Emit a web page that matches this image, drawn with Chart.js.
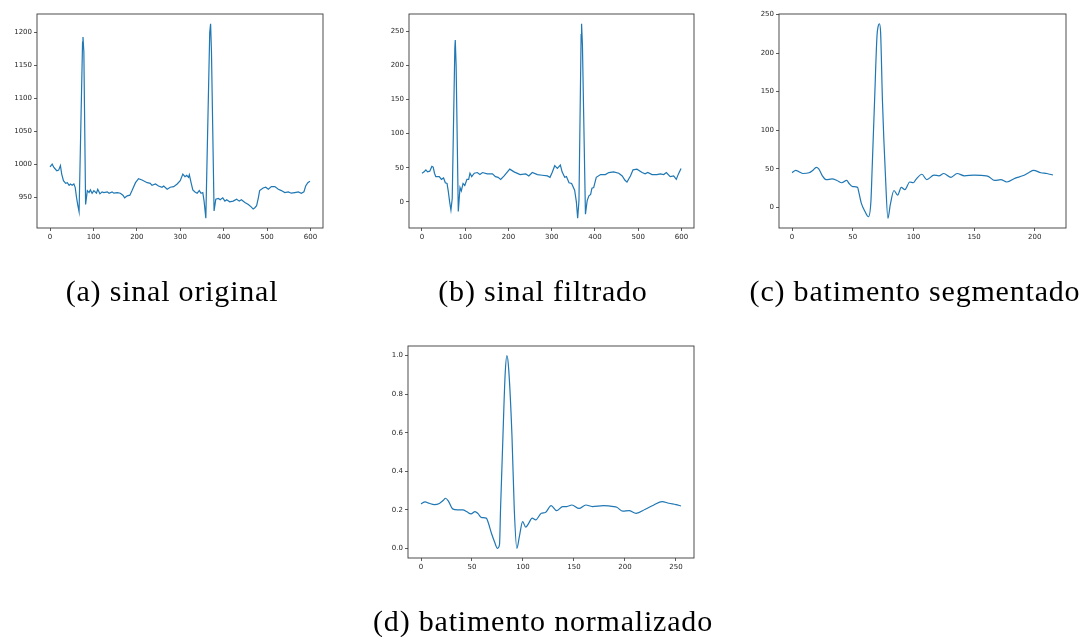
<!DOCTYPE html>
<html>
<head>
<meta charset="utf-8">
<script src="https://cdn.jsdelivr.net/npm/chart.js@4.4.1/dist/chart.umd.min.js"></script>
<style>
  html, body { margin: 0; padding: 0; background: #fff; overflow: hidden; }
  body { width: 1083px; height: 637px; position: relative; }
  .panel { position: absolute; }
  #captions { position: absolute; left: 0; top: 0; pointer-events: none; }
</style>
</head>
<body>
<canvas class="panel" id="chart-a"></canvas>
<canvas class="panel" id="chart-b"></canvas>
<canvas class="panel" id="chart-c"></canvas>
<canvas class="panel" id="chart-d"></canvas>
<canvas id="captions" width="1083" height="637"></canvas>
<script>
// (a) sinal original
const xA = [0, 5, 9, 13, 16, 20, 24, 27, 31, 36, 40, 44, 47, 51, 55, 58, 61, 64, 67, 75, 76, 78, 82,
  86, 90, 93, 97, 101, 107, 110, 115, 120, 124, 132, 136, 143, 147, 155, 162, 168, 172, 178, 184,
  189, 197, 204, 212, 224, 231, 235, 243, 250, 258, 262, 270, 277, 285, 293, 300, 306, 311, 315,
  319, 321, 325, 329, 334, 339, 344, 348, 352, 355, 359, 368, 370, 372, 378, 382, 388, 392, 398, 403,
  407, 414, 422, 430, 436, 441, 449, 457, 464, 468, 472, 476, 480, 483, 491, 497, 503, 510, 518,
  526, 533, 541, 549, 556, 564, 572, 579, 585, 589, 594, 599];
const yA = [996, 1000, 995, 992, 990, 991, 998, 985, 975, 971, 972, 968, 970, 968, 970, 965, 950, 938, 928, 1185, 1193, 1170, 939,
  960, 957, 961, 956, 960, 956, 962, 955, 958, 957, 958, 956, 958, 956, 957, 956, 953, 949, 952, 953,
  960, 972, 978, 976, 972, 971, 968, 970, 967, 965, 967, 962, 965, 966, 970, 975, 985, 981, 983,
  980, 984, 972, 961, 958, 956, 960, 956, 957, 944, 918, 1200, 1213, 1170, 929, 947, 948, 946, 949, 944,
  946, 943, 944, 947, 944, 946, 942, 939, 935, 932, 934, 937, 949, 960, 964, 965, 962, 966, 966,
  962, 960, 957, 958, 956, 957, 958, 956, 958, 967, 972, 974];
const xTicksA = [0, 100, 200, 300, 400, 500, 600];
const yTicksA = [950, 1000, 1050, 1100, 1150, 1200];

// (b) sinal filtrado
const xB = [0, 5, 9, 13, 18, 23, 26, 29, 32, 40, 45, 50, 54, 58, 61, 64, 67, 70, 76, 77, 79, 84,
  88, 91, 95, 99, 104, 108, 111, 115, 121, 128, 134, 140, 151, 163, 170, 176, 182, 190, 203, 213,
  227, 240, 247, 255, 267, 278, 290, 296, 301, 307, 313, 320, 324, 330, 334, 340, 346, 353, 357,
  360, 363, 368, 369, 371, 378, 382, 386, 390, 393, 397, 403, 413, 424, 432, 443, 455, 463, 469, 474,
  482, 488, 497, 509, 516, 522, 532, 543, 551, 559, 565, 574, 582, 588, 593, 599];
const yB = [42, 44, 47, 44, 45, 52, 51, 42, 37, 37, 33, 35, 28, 27, 15, 0, -12, 5, 225, 237, 200, -14,
  21, 16, 27, 24, 33, 33, 42, 37, 42, 43, 40, 43, 41, 41, 37, 36, 33, 38, 48, 44,
  40, 41, 38, 43, 40, 39, 38, 36, 43, 53, 49, 54, 44, 36, 37, 28, 27, 17, 0,
  -24, 2, 245, 261, 230, -18, 2, 9, 11, 20, 21, 36, 40, 40, 43, 44, 42, 38, 32, 29,
  38, 47, 48, 43, 41, 43, 40, 40, 41, 40, 43, 37, 38, 33, 41, 49];
const xTicksB = [0, 100, 200, 300, 400, 500, 600];
const yTicksB = [0, 50, 100, 150, 200, 250];

// (c) batimento segmentado
const xC = [0, 3, 6, 9, 14, 17, 20, 22, 25, 28, 33, 37, 41, 45, 47, 50, 54, 55, 57, 60, 63, 65,
  66, 68, 70, 71, 72, 73, 74.5, 77, 79, 81, 84, 87, 90, 93, 97, 100, 102, 107, 111, 117, 121,
  125, 131, 136, 142, 150, 160, 162, 167, 172, 177, 184, 190, 195, 199, 205, 210, 215];
const yC = [45, 48, 46, 44, 45, 48, 52, 50, 41, 36, 37, 35, 32, 35, 31, 27, 26, 20, 6, -5, -12, 8,
  50, 138, 222, 235, 238, 226, 138, 40, -14, 4, 22, 16, 26, 23, 33, 32, 36, 43, 36, 42, 41,
  44, 39, 44, 41, 42, 41, 40, 35, 36, 33, 38, 41, 45, 48, 45, 44, 42];
const xTicksC = [0, 50, 100, 150, 200];
const yTicksC = [0, 50, 100, 150, 200, 250];

// (d) batimento normalizado
const xD = [0, 4, 8, 13, 18, 22, 24, 27, 31, 36, 41, 45, 49, 53, 56, 59, 64, 66, 69, 72, 75, 77,
  78, 80.4, 82.5, 84.3, 86, 89.2, 91.5, 94, 96.5, 99.7, 102.7, 105.3, 109, 112.5, 118, 122,
  127.6, 133, 139, 143, 148, 155, 161.7, 168, 179, 189, 192, 198, 204, 211, 220, 228, 236.5,
  243, 250, 255];
const yD = [0.231, 0.241, 0.234, 0.227, 0.233, 0.25, 0.26, 0.244, 0.205, 0.2, 0.2, 0.19, 0.179, 0.191, 0.18, 0.161, 0.157, 0.133, 0.08, 0.036, 0.0, 0.02,
  0.2, 0.587, 0.9, 1.0, 0.93, 0.587, 0.2, 0.0, 0.062, 0.139, 0.11, 0.127, 0.157, 0.148, 0.182, 0.186,
  0.222, 0.196, 0.217, 0.217, 0.225, 0.207, 0.225, 0.217, 0.222, 0.217, 0.213, 0.193, 0.196, 0.182, 0.203, 0.224, 0.243,
  0.234, 0.227, 0.22];
const xTicksD = [0, 50, 100, 150, 200, 250];
const yTicksD = [0.0, 0.2, 0.4, 0.6, 0.8, 1.0];

const captions = ["(a) sinal original", "(b) sinal filtrado", "(c) batimento segmentado", "(d) batimento normalizado"];

const LINE_COLOR = "#1f77b4";
const AXIS_W = 44;
const AXIS_H = 22;
const PAD_T = 8;
const PAD_R = 8;

const framePlugin = {
  id: "frame",
  afterDraw(chart) {
    const { ctx, chartArea: a } = chart;
    ctx.save();
    ctx.strokeStyle = "#3a3a3a";
    ctx.lineWidth = 0.9;
    ctx.strokeRect(a.left, a.top, a.right - a.left, a.bottom - a.top);
    ctx.restore();
  }
};

function padRange(values) {
  const lo = Math.min(...values);
  const hi = Math.max(...values);
  const pad = (hi - lo) * 0.05;
  return { min: lo - pad, max: hi + pad };
}

function axis(ticks, range, format, isX) {
  return {
    type: "linear",
    min: range.min,
    max: range.max,
    afterBuildTicks(scale) {
      scale.ticks = ticks.map((value) => ({ value }));
    },
    afterFit(scale) {
      if (isX) scale.height = AXIS_H;
      else scale.width = AXIS_W;
    },
    ticks: {
      color: "#262626",
      font: { family: "DejaVu Sans", size: 7 },
      padding: 2,
      maxRotation: 0,
      autoSkip: false,
      callback: format
    },
    grid: { drawOnChartArea: false, drawTicks: true, tickLength: 3, color: "#333", lineWidth: 0.8 },
    border: { display: false }
  };
}

function renderPanel(canvasId, area, xs, ys, xTicks, yTicks, yFormat, smooth) {
  const canvas = document.getElementById(canvasId);
  canvas.width = AXIS_W + area.width + PAD_R;
  canvas.height = PAD_T + area.height + AXIS_H;
  canvas.style.left = (area.left - AXIS_W) + "px";
  canvas.style.top = (area.top - PAD_T) + "px";

  new Chart(canvas, {
    type: "line",
    data: {
      datasets: [{
        data: xs.map((x, i) => ({ x, y: ys[i] })),
        borderColor: LINE_COLOR,
        borderWidth: 1.2,
        pointRadius: 0,
        fill: false,
        tension: smooth ? 0.4 : 0,
        cubicInterpolationMode: smooth ? "monotone" : "default"
      }]
    },
    options: {
      responsive: false,
      animation: false,
      events: [],
      layout: { padding: { top: PAD_T, right: PAD_R, left: 0, bottom: 0 } },
      plugins: { legend: { display: false }, tooltip: { enabled: false } },
      scales: {
        x: axis(xTicks, padRange(xs), (v) => String(v), true),
        y: axis(yTicks, padRange(ys), yFormat, false)
      }
    },
    plugins: [framePlugin]
  });
}

function drawCaptions() {
  const ctx = document.getElementById("captions").getContext("2d");
  const spots = [[172, 301], [543, 301], [915, 301], [543, 631]];
  ctx.font = "30px 'Liberation Serif', serif";
  ctx.letterSpacing = "0.8px";
  ctx.fillStyle = "#000";
  ctx.textAlign = "center";
  ctx.textBaseline = "alphabetic";
  captions.forEach((text, i) => ctx.fillText(text, spots[i][0], spots[i][1]));
}

const plain = (v) => String(v);
const oneDecimal = (v) => v.toFixed(1);

renderPanel("chart-a", { left: 37, top: 14, width: 286, height: 214 }, xA, yA, xTicksA, yTicksA, plain, false);
renderPanel("chart-b", { left: 409, top: 14, width: 285, height: 214 }, xB, yB, xTicksB, yTicksB, plain, false);
renderPanel("chart-c", { left: 779, top: 14, width: 287, height: 214 }, xC, yC, xTicksC, yTicksC, plain, true);
renderPanel("chart-d", { left: 408, top: 346, width: 286, height: 212 }, xD, yD, xTicksD, yTicksD, oneDecimal, true);
drawCaptions();
</script>
</body>
</html>
